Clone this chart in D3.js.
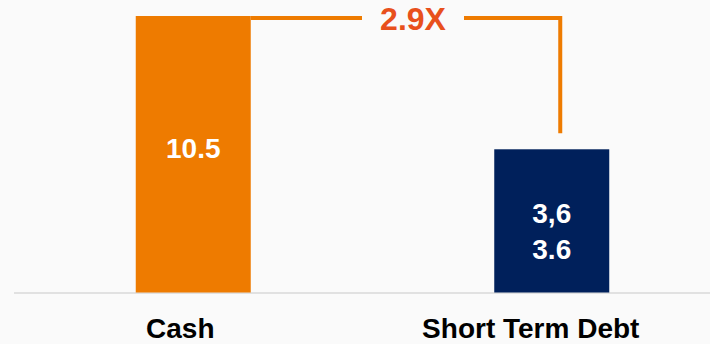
<!DOCTYPE html>
<html>
<head>
<meta charset="utf-8">
<script src="https://cdn.jsdelivr.net/npm/d3@7"></script>
<style>
  html, body { margin: 0; padding: 0; background: #fafafa; }
  svg { display: block; font-family: "Liberation Sans", Arial, Helvetica, sans-serif; }
</style>
</head>
<body>
<svg id="chart" width="710" height="344"></svg>
<script>
// Data
const categories = ["Cash", "Short Term Debt"];
const values = [10.5, 3.6];
const valueLabels = [["10.5"], ["3,6", "3.6"]];
const barColors = ["#ee7b00", "#00205b"];

// Layout
const W = 710, H = 344;
const baselineY = 293;
const barWidth = 115;
const labelShift = [-13, -21];
const valueLabelDrop = [142, 74];   // first baseline below each bar top
const valueLineHeight = 36;

const svg = d3.select("#chart");

const x = d3.scaleBand().domain(categories).range([14, 731]).padding(0);
// Value axis: the top of the largest bar sits near the top edge.
const y = d3.scaleLinear().domain([-3.84, 10.5]).range([baselineY, 16]);

const cx = c => x(c) + x.bandwidth() / 2;

// Baseline
svg.append("line")
  .attr("x1", 14).attr("x2", W)
  .attr("y1", baselineY).attr("y2", baselineY)
  .attr("stroke", "#d9d9d9").attr("stroke-width", 1.5);

// Bars
svg.selectAll("rect.bar")
  .data(categories)
  .join("rect")
  .attr("class", "bar")
  .attr("x", c => cx(c) - barWidth / 2)
  .attr("width", barWidth)
  .attr("y", (c, i) => y(values[i]))
  .attr("height", (c, i) => y.range()[0] - y(values[i]) - 0.5)
  .attr("fill", (c, i) => barColors[i]);

// Value labels inside the bars
categories.forEach((c, i) => {
  const top = y(values[i]);
  valueLabels[i].forEach((t, k) => {
    svg.append("text")
      .attr("x", cx(c))
      .attr("y", top + valueLabelDrop[i] + k * valueLineHeight)
      .attr("text-anchor", "middle")
      .attr("font-size", 28)
      .attr("font-weight", "bold")
      .attr("fill", "#ffffff")
      .text(t);
  });
});

// Category labels
svg.selectAll("text.cat")
  .data(categories)
  .join("text")
  .attr("class", "cat")
  .attr("x", (c, i) => cx(c) + labelShift[i])
  .attr("y", 338)
  .attr("text-anchor", "middle")
  .attr("font-size", 28)
  .attr("font-weight", "bold")
  .attr("fill", "#000000")
  .text(c => c);

// Ratio connector from the Cash bar top to above the debt bar
const ratio = (values[0] / values[1]).toFixed(1) + "X";
const lineY = y(values[0]) + 2;
const xStart = cx(categories[0]) + barWidth / 2;
const xEnd = cx(categories[1]) + 8.5;
const yEnd = y(values[1]) - 16;
const gapL = 362, gapR = 464;
const conn = "#ee7b00";

svg.append("line")
  .attr("x1", xStart).attr("x2", gapL)
  .attr("y1", lineY).attr("y2", lineY)
  .attr("stroke", conn).attr("stroke-width", 4);

svg.append("path")
  .attr("d", `M${gapR},${lineY} H${xEnd} V${yEnd}`)
  .attr("fill", "none")
  .attr("stroke", conn).attr("stroke-width", 4);

svg.append("text")
  .attr("x", 413)
  .attr("y", 30)
  .attr("text-anchor", "middle")
  .attr("font-size", 32)
  .attr("font-weight", "bold")
  .attr("fill", "#e8501c")
  .text(ratio);
</script>
</body>
</html>
